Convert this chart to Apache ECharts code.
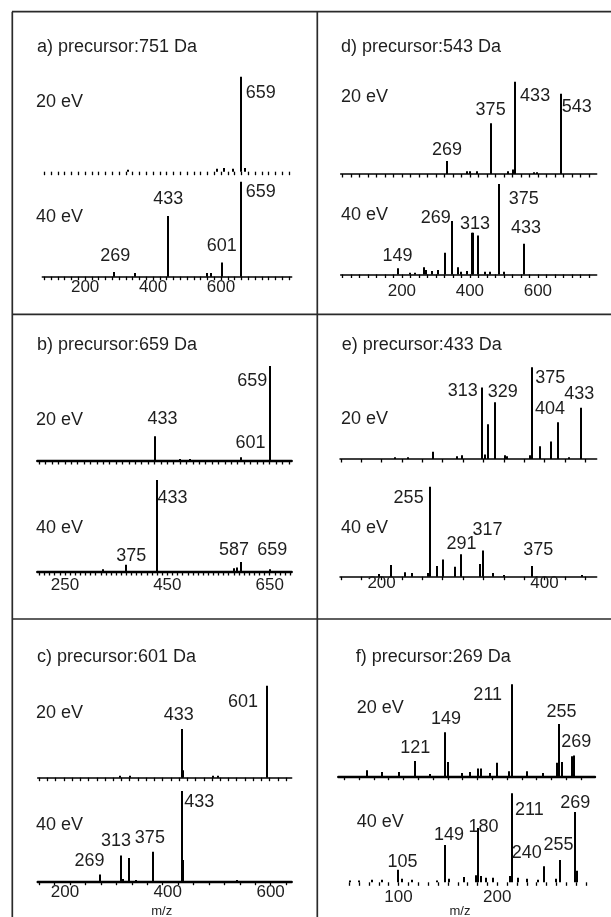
<!DOCTYPE html>
<html>
<head>
<meta charset="utf-8">
<script src="https://cdn.jsdelivr.net/npm/echarts@6/dist/echarts.min.js"></script>
<style>
  html, body { margin: 0; padding: 0; background: #fff; }
  #msms { width: 611px; height: 917px; }
</style>
</head>
<body>
<div id="msms"></div>
<script>
// tick labels of the m/z axes (one per panel column)
var aTicks = [200, 400, 600];
var dTicks = [200, 400, 600];
var bTicks = [250, 450, 650];
var eTicks = [200, 400];
var cTicks = [200, 400, 600];
var fTicks = [100, 200];

// peaks: [m/z as drawn on the axis, relative intensity %]
var a20 = [[326, 2], [587, 3], [608, 4], [635, 3], [658, 100], [670, 4]];
var a40 = [[286, 5], [347, 4], [445, 64], [558, 4], [570, 4], [602, 15], [658, 100]];
var d20 = [[333, 14], [391, 3], [401, 3], [420, 3], [461, 55], [511, 3], [528, 5], [533, 100], [589, 2], [598, 2], [667, 87]];
var d40 = [[190, 7], [224, 2], [239, 2], [266, 8], [271, 5], [288, 4], [306, 5], [326, 24], [347, 59], [366, 8], [374, 3], [391, 4],
  [406, 46], [410, 46], [425, 43], [445, 3], [459, 3], [485, 100], [501, 3], [559, 34]];
var b20 = [[425, 26], [475, 2], [494, 2], [593, 4], [651, 100]];
var b40 = [[324, 3], [370, 8], [430, 100], [580, 4], [587, 5], [593, 11], [651, 3]];
var e20 = [[216, 2], [233, 2], [263, 8], [292, 3], [299, 4], [323, 78], [327, 5], [330, 38], [339, 62], [352, 4], [354, 3],
  [382, 4], [385, 100], [394, 14], [408, 19], [416, 40], [430, 2], [445, 56]];
var e40 = [[197, 3], [211, 13], [229, 5], [237, 4], [257, 4], [259, 100], [268, 12], [276, 19], [290, 11], [298, 25], [321, 14],
  [325, 29], [337, 4], [350, 2], [385, 12], [446, 2]];
var c20 = [[308, 2], [326, 2], [427, 53], [430, 8], [488, 2], [498, 2], [592, 100]];
var c40 = [[268, 8], [309, 29], [313, 3], [325, 26], [339, 2], [371, 33], [427, 100], [430, 24], [534, 2]];
var f20 = [[68, 7], [83, 5], [100, 5], [117, 17], [132, 3], [147, 48], [150, 16], [164, 4], [172, 5], [181, 9], [184, 9], [193, 4],
  [200, 15], [212, 6], [215, 100], [230, 6], [246, 4], [261, 15], [263, 57], [266, 16], [276, 22], [278, 23]];
var f40 = [[51, 2], [60, 2], [73, 3], [83, 3], [99, 14], [104, 4], [114, 3], [139, 2], [147, 42], [151, 4], [166, 6], [178, 8],
  [181, 61], [184, 7], [189, 5], [196, 5], [213, 7], [215, 100], [221, 5], [230, 4], [241, 3], [247, 18], [260, 4], [264, 25],
  [279, 79], [281, 13]];

// annotated peaks: [m/z on axis, annotation text]
var a20Tags = [[658, '659']];
var a40Tags = [[658, '659'], [445, '433'], [602, '601'], [286, '269']];
var d20Tags = [[333, '269'], [461, '375'], [533, '433'], [667, '543']];
var d40Tags = [[190, '149'], [347, '269'], [406, '313'], [485, '375'], [559, '433']];
var b20Tags = [[651, '659'], [425, '433'], [593, '601']];
var b40Tags = [[430, '433'], [370, '375'], [593, '587'], [651, '659']];
var e20Tags = [[323, '313'], [339, '329'], [385, '375'], [445, '433'], [416, '404']];
var e40Tags = [[259, '255'], [298, '291'], [325, '317'], [385, '375']];
var c20Tags = [[592, '601'], [427, '433']];
var c40Tags = [[427, '433'], [371, '375'], [309, '313'], [268, '269']];
var f20Tags = [[215, '211'], [147, '149'], [117, '121'], [263, '255'], [278, '269']];
var f40Tags = [[215, '211'], [279, '269'], [181, '180'], [147, '149'], [264, '255'], [247, '240'], [99, '105']];

var FONT = '"Liberation Sans", Arial, sans-serif';
var INK = '#1e1e1e';

function steps(from, to, step) {
  var out = [];
  for (var v = from; v <= to + 1e-6; v += step) out.push(v);
  return out;
}

// layout of the 12 spectra (pixel boxes, axis range, tick spacing, label placement)
var spectra = [
  { peaks: a20, tags: a20Tags, place: [['right', 0, 3]],
    left: 42.3, width: 249.4, base: 171.7, h: 95, min: 74, max: 808, line: 0, step: 20, from: 80 },
  { peaks: a40, tags: a40Tags, place: [['right', 0, -3], ['top', 0, -1], ['top', 0, 0], ['top', 1, 0]],
    left: 42.3, width: 249.4, base: 276.7, h: 95, min: 74, max: 808, line: 1.5, step: 20, from: 80, labels: aTicks, margin: 2 },
  { peaks: d20, tags: d20Tags, place: [['top', 0, 5], ['top', 0, 3], ['right', 0, 1], ['right', -4, 0]],
    left: 340.7, width: 256, base: 174, h: 92.3, min: 20, max: 773, line: 1.5, step: 25, from: 25 },
  { peaks: d40, tags: d40Tags, place: [['top', -1, 4], ['left', 3, -14], ['top', 3, 7], ['right', 5, 2], ['top', 2, 0]],
    left: 340.7, width: 256, base: 274.5, h: 90.5, min: 20, max: 773, line: 1.5, step: 25, from: 25, labels: dTicks, margin: 8.5 },
  { peaks: b20, tags: b20Tags, place: [['left', 1, 4], ['top', 8, -1], ['top', 10, 1.5]],
    left: 37.3, width: 254.4, base: 461, h: 95, min: 196, max: 693, line: 2.4, step: 12.5, from: 200 },
  { peaks: b40, tags: b40Tags, place: [['right', -4.5, 5], ['top', 5, 7], ['top', -6.5, 4], ['top', 2, -3]],
    left: 37.3, width: 254.4, base: 572, h: 92, min: 196, max: 693, line: 2.4, step: 10, from: 200, labels: bTicks, margin: 5 },
  { peaks: e20, tags: e20Tags, place: [['left', 0, -7], ['top', 8, 6], ['right', -2, -2], ['top', -2, 2], ['top', -7.6, 3]],
    left: 340, width: 256.7, base: 459, h: 91.7, min: 149, max: 464, line: 1.5, step: 25, from: 150 },
  { peaks: e40, tags: e40Tags, place: [['left', -2, 0], ['top', 0, 6], ['top', 4, -5], ['top', 6, 0]],
    left: 340, width: 256.7, base: 576.7, h: 90, min: 149, max: 464, line: 1.5, step: 25, from: 150, labels: eTicks, margin: -2 },
  { peaks: c20, tags: c20Tags, place: [['left', -4.4, 5], ['top', -3, 2]],
    left: 37.7, width: 254, base: 777.7, h: 92, min: 147, max: 641, line: 1.5, step: 16, from: 150 },
  { peaks: c40, tags: c40Tags, place: [['right', -2.4, -2], ['top', -3, 2], ['top', -5, 2], ['top', -10.5, 3]],
    left: 37.7, width: 254, base: 881.7, h: 90.7, min: 147, max: 641, line: 2.4, step: 30, from: 150, labels: cTicks, margin: 2 },
  { peaks: f20, tags: f20Tags, place: [['left', -6, 0], ['top', 1, 3], ['top', 0, 3], ['top', 2, 4], ['top', 2, 3]],
    left: 338.3, width: 256.7, base: 776.7, h: 92.4, min: 39, max: 299, line: 2.4, step: 15, from: 45 },
  { peaks: f40, tags: f40Tags, place: [['right', -2, 4], ['top', 0, 7], ['top', 5, 15], ['top', 4, 6], ['top', -2, 1], ['left', 2, -24], ['top', 5, 8]],
    left: 338.3, width: 256.7, base: 882.3, h: 89, min: 39, max: 299, line: 0, step: 10, from: 50, labels: fTicks, margin: 6.5 }
];

function stickSeries(i, s) {
  var tagMap = {};
  s.tags.forEach(function (t, k) { tagMap[t[0]] = { text: t[1], p: s.place[k] }; });
  return {
    type: 'custom',
    xAxisIndex: i,
    yAxisIndex: i,
    silent: true,
    data: s.peaks,
    renderItem: function (params, api) {
      var mz = api.value(0);
      var top = api.coord([mz, api.value(1)]);
      var base = api.coord([mz, 0]);
      var sx = Math.round(top[0]); // crisp 2px stick
      var kids = [{
        type: 'line',
        shape: { x1: sx, y1: base[1], x2: sx, y2: top[1] },
        style: { stroke: '#000', lineWidth: 2 }
      }];
      var tag = tagMap[mz];
      if (tag) {
        var p = tag.p, x, y, align;
        if (p[0] === 'right') { x = top[0] + 5; y = top[1] + 13; align = 'left'; }
        else if (p[0] === 'left') { x = top[0] - 4; y = top[1] + 11; align = 'right'; }
        else { x = top[0]; y = top[1] - 16; align = 'center'; }
        kids.push({
          type: 'text',
          style: {
            text: tag.text, x: x + (p[1] || 0), y: y + (p[2] || 0),
            align: align, verticalAlign: 'middle',
            fill: INK, fontSize: 18, fontFamily: FONT
          }
        });
      }
      return { type: 'group', children: kids };
    }
  };
}

var grids = [], xAxes = [], yAxes = [], series = [];
spectra.forEach(function (s, i) {
  grids.push({ left: s.left, top: s.base - s.h, width: s.width, height: s.h, containLabel: false });
  xAxes.push({
    type: 'value', gridIndex: i, min: s.min, max: s.max,
    splitLine: { show: false },
    axisLine: { show: s.line > 0, onZero: false, lineStyle: { color: '#000', width: s.line || 1 } },
    axisTick: { show: true, length: 3.5, customValues: steps(s.from, s.max, s.step), lineStyle: { color: '#000', width: 1.3 } },
    axisLabel: {
      show: !!s.labels, customValues: s.labels || [], margin: s.margin || 0,
      color: INK, fontSize: 17, fontFamily: FONT
    }
  });
  yAxes.push({ type: 'value', gridIndex: i, min: 0, max: 100, show: false });
  series.push(stickSeries(i, s));
});

// frame of the figure table
var rule = { stroke: '#2a2a2a', lineWidth: 1.7 };
function hline(y) { return { type: 'line', shape: { x1: 12, y1: y, x2: 611, y2: y }, style: rule }; }
function vline(x) { return { type: 'line', shape: { x1: x, y1: 11.7, x2: x, y2: 917 }, style: rule }; }
function label(txt, x, y, size) {
  return { type: 'text', x: x, y: y, style: { text: txt, fill: INK, fontSize: size || 18, fontFamily: FONT, verticalAlign: 'middle' } };
}
function center(txt, x, y, size) {
  return { type: 'text', x: x, y: y, style: { text: txt, fill: INK, fontSize: size, fontFamily: FONT, align: 'center', verticalAlign: 'middle' } };
}

var graphic = [
  hline(11.7), hline(314.3), hline(619), vline(12.3), vline(317.3),
  label('a) precursor:751 Da', 37, 47), label('20 eV', 36, 102), label('40 eV', 36, 216.7),
  label('d) precursor:543 Da', 341, 47), label('20 eV', 341, 97), label('40 eV', 341, 215),
  label('b) precursor:659 Da', 37, 345), label('20 eV', 36, 420), label('40 eV', 36, 528.3),
  label('e) precursor:433 Da', 341.7, 345), label('20 eV', 341, 419.3), label('40 eV', 341, 528.3),
  label('c) precursor:601 Da', 37, 656.7), label('20 eV', 36, 713.3), label('40 eV', 36, 825),
  label('f) precursor:269 Da', 355.7, 656.7), label('20 eV', 356.7, 708.3), label('40 eV', 356.7, 821.7),
  center('m/z', 161.7, 911.7, 13), center('m/z', 460, 911.7, 13)
];

var chart = echarts.init(document.getElementById('msms'), null, { renderer: 'canvas' });
chart.setOption({
  animation: false,
  backgroundColor: '#fff',
  grid: grids,
  xAxis: xAxes,
  yAxis: yAxes,
  series: series,
  graphic: graphic
});
</script>
</body>
</html>
